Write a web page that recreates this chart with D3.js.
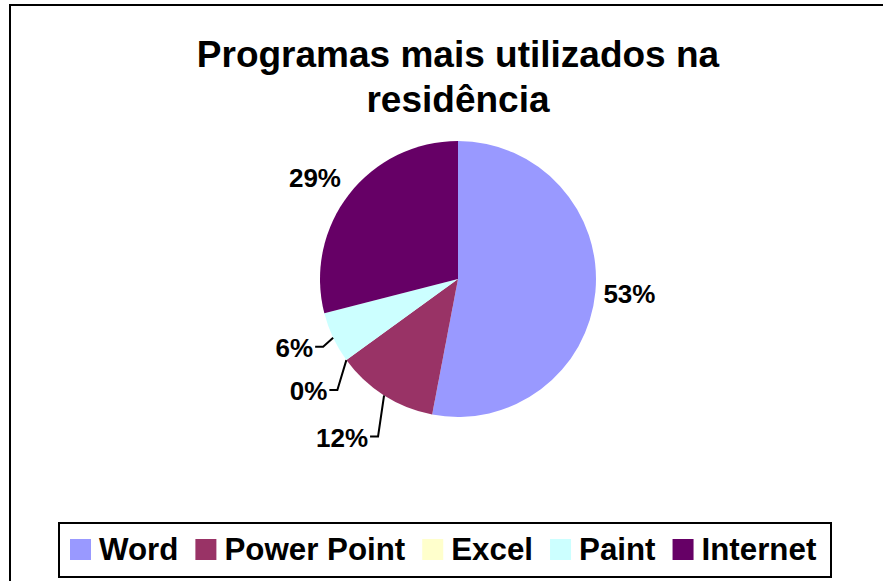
<!DOCTYPE html>
<html>
<head>
<meta charset="utf-8">
<script src="https://cdn.jsdelivr.net/npm/d3@7"></script>
<style>
  html, body { margin: 0; padding: 0; background: #fff; }
  svg { display: block; font-family: "Liberation Sans", Arial, sans-serif; font-weight: bold; }
</style>
</head>
<body>
<svg id="chart" width="883" height="581"></svg>
<script>
// ---- data ----
const categories = ["Word", "Power Point", "Excel", "Paint", "Internet"];
const values = [53, 12, 0, 6, 29];
const colors = ["#9999FF", "#993366", "#FFFFCC", "#CCFFFF", "#660066"];
const titleLines = ["Programas mais utilizados na", "residência"];

// ---- layout (label offsets from slice edge point, leader flag) ----
const labelLayout = [
  { dx: 8,   dy: 11, anchor: "start", leader: false },
  { dx: -16, dy: 51, anchor: "end",   leader: true },
  { dx: -19, dy: 40, anchor: "end",   leader: true },
  { dx: -20, dy: 19, anchor: "end",   leader: true },
  { dx: -8,  dy: -7, anchor: "end",   leader: false }
];

const svg = d3.select("#chart");

// outer chart border (right/bottom off-canvas)
svg.append("rect")
  .attr("x", 10).attr("y", 5)
  .attr("width", 890).attr("height", 600)
  .attr("fill", "#fff").attr("stroke", "#000").attr("stroke-width", 2);

// title
const cx = 458, cy = 279, r = 138;
svg.append("text")
  .attr("x", cx).attr("y", 67)
  .attr("text-anchor", "middle").attr("font-size", 37)
  .text(titleLines[0]);
svg.append("text")
  .attr("x", cx).attr("y", 112)
  .attr("text-anchor", "middle").attr("font-size", 37)
  .text(titleLines[1]);

// pie
const data = categories.map((c, i) => ({ name: c, value: values[i], color: colors[i], layout: labelLayout[i] }));
const pie = d3.pie().sort(null).value(d => d.value);
const arcs = pie(data);
const arc = d3.arc().innerRadius(0).outerRadius(r);

const g = svg.append("g").attr("transform", `translate(${cx},${cy})`);
g.selectAll("path.slice")
  .data(arcs)
  .join("path")
  .attr("class", "slice")
  .attr("d", arc)
  .attr("fill", d => d.data.color);

// labels
const total = d3.sum(values);
arcs.forEach(a => {
  const mid = (a.startAngle + a.endAngle) / 2;
  const ex = r * Math.sin(mid), ey = -r * Math.cos(mid);
  const L = a.data.layout;
  const lx = ex + L.dx, ly = ey + L.dy;
  g.append("text")
    .attr("x", lx).attr("y", ly)
    .attr("text-anchor", L.anchor)
    .attr("font-size", 26)
    .text(Math.round(a.data.value / total * 100) + "%");
  if (L.leader) {
    const yy = ly - 10;
    g.append("path")
      .attr("d", d3.line()([[ex, ey], [lx + 10, yy], [lx + 2, yy]]))
      .attr("fill", "none").attr("stroke", "#000").attr("stroke-width", 2);
  }
});

// legend
const legX = 59, legY = 523, legW = 772, legH = 54;
svg.append("rect")
  .attr("x", legX).attr("y", legY).attr("width", legW).attr("height", legH)
  .attr("fill", "#fff").attr("stroke", "#000").attr("stroke-width", 2);

let x = 70;
const sw = 21, baseY = 560;
data.forEach(d => {
  svg.append("rect")
    .attr("x", x).attr("y", baseY - sw).attr("width", sw).attr("height", sw)
    .attr("fill", d.color);
  const t = svg.append("text")
    .attr("x", x + sw + 8).attr("y", baseY)
    .attr("font-size", 31.3)
    .text(d.name);
  const w = t.node().getComputedTextLength();
  x = x + sw + 8 + w + 17;
});
</script>
</body>
</html>
